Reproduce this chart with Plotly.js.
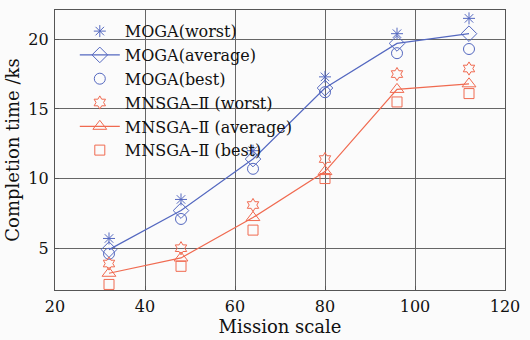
<!DOCTYPE html>
<html><head><meta charset="utf-8">
<script src="https://cdn.plot.ly/plotly-3.0.1.min.js"></script>
<style>html,body{margin:0;padding:0;background:#fbfbfb;}</style>
</head><body>
<div id="chart" style="width:530px;height:340px;"></div>
<script>
const missionScale = [32, 48, 64, 80, 96, 112];
const mogaWorst = [5.7, 8.5, 12.0, 17.3, 20.4, 21.5];
const mogaAverage = [4.9, 7.7, 11.4, 16.5, 19.7, 20.4];
const mogaBest = [4.6, 7.1, 10.7, 16.2, 19.0, 19.3];
const mnsgaWorst = [3.9, 5.0, 8.1, 11.4, 17.5, 17.9];
const mnsgaAverage = [3.2, 4.3, 7.2, 10.5, 16.4, 16.8];
const mnsgaBest = [2.4, 3.7, 6.3, 10.0, 15.5, 16.1];
const names = ['MOGA(worst)', 'MOGA(average)', 'MOGA(best)', 'MNSGA–Ⅱ (worst)', 'MNSGA–Ⅱ (average)', 'MNSGA–Ⅱ (best)'];

const blue = '#5468c0', red = '#f06a50';
function tr(y, name, color, symbol, size, line) {
  return {x: missionScale, y: y, name: name, type: 'scatter',
    mode: line ? 'lines+markers' : 'markers',
    line: {color: color, width: 1.2},
    marker: {symbol: symbol, size: size, color: color, line: {color: color, width: 1}}};
}
const data = [
  tr(mogaWorst, names[0], blue, 'asterisk-open', 10, false),
  tr(mogaAverage, names[1], blue, 'diamond-open', 12, true),
  tr(mogaBest, names[2], blue, 'circle-open', 11, false),
  tr(mnsgaWorst, names[3], red, 'hexagram-open', 10, false),
  tr(mnsgaAverage, names[4], red, 'triangle-up-open', 12, true),
  tr(mnsgaBest, names[5], red, 'square-open', 10, false)
];
const axisCommon = {showline: true, mirror: true, linecolor: '#555', linewidth: 1.2,
  showgrid: true, gridcolor: '#666', gridwidth: 1, ticks: 'inside', ticklen: 4, tickcolor: '#555',
  zeroline: false, ticklabelstandoff: 2, tickfont: {family: 'DejaVu Serif', size: 16, color: '#111'}};
const layout = {
  width: 530, height: 340,
  margin: {l: 55, r: 25, t: 10, b: 50},
  paper_bgcolor: '#fbfbfb', plot_bgcolor: '#fbfbfb',
  font: {family: 'DejaVu Serif', color: '#111'},
  xaxis: Object.assign({}, axisCommon, {range: [20, 120], tickvals: [20, 40, 60, 80, 100, 120],
    title: {text: 'Mission scale', font: {family: 'DejaVu Serif', size: 18}, standoff: 0}}),
  yaxis: Object.assign({}, axisCommon, {range: [2, 22.1], tickvals: [5, 10, 15, 20],
    title: {text: 'Completion time /ks', font: {family: 'DejaVu Serif', size: 18}, standoff: 4}}),
  legend: {x: 0.044, y: 0.985, xanchor: 'left', yanchor: 'top', bgcolor: 'rgba(0,0,0,0)',
    font: {family: 'DejaVu Serif', size: 16, color: '#111'}, tracegroupgap: 0, itemwidth: 40},
  showlegend: true
};
Plotly.newPlot('chart', data, layout, {displayModeBar: false, staticPlot: true});
</script>
</body></html>
